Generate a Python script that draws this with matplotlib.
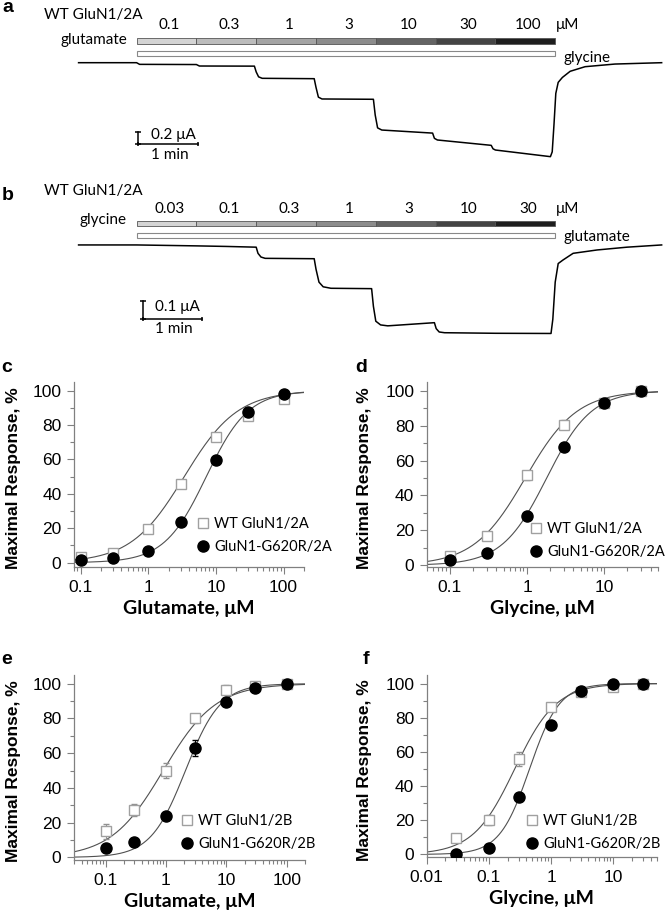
import numpy as np
import matplotlib
matplotlib.use('Agg')
import matplotlib.pyplot as plt
from matplotlib.patches import Rectangle
from matplotlib.transforms import blended_transform_factory
from matplotlib.ticker import FixedLocator, FixedFormatter, LogLocator, NullFormatter, MultipleLocator

plt.rcParams['font.family'] = ['Liberation Sans', 'DejaVu Sans']

W, H = 665, 921
LATO = ['Lato', 'DejaVu Sans']

# ---- data: traces (time in min, current in uA)
glu_conc_a = ['0.1', '0.3', '1', '3', '10', '30', '100']
gly_conc_b = ['0.03', '0.1', '0.3', '1', '3', '10', '30']
app_start = [0, 1, 2, 3, 4, 5, 6]
app_dur = 1.0
bar_colors = ['#d4d4d4', '#bcbcbc', '#a4a4a4', '#8c8c8c', '#646464', '#444444', '#1e1e1e']

trace_a_t = [-0.97, 0.0, 0.05, 1.0, 1.05, 1.97, 2.0, 2.04, 2.1, 2.97, 3.0, 3.04, 3.1, 3.96, 3.99, 4.03,
             4.1, 4.95, 4.98, 5.03, 5.93, 5.96, 6.0, 6.92, 6.95, 6.98, 7.01, 7.05, 7.12, 7.25, 7.5, 8.0, 8.78]
trace_a_i = [0, 0, -0.027, -0.03, -0.054, -0.056, -0.15, -0.23, -0.254, -0.26, -0.4, -0.56, -0.59, -0.595, -0.85, -1.06,
             -1.095, -1.145, -1.23, -1.257, -1.344, -1.40, -1.42, -1.528, -1.45, -1.0, -0.5, -0.32, -0.24, -0.14, -0.065, -0.022, 0]

trace_b_t = [-0.97, 0.0, 1.0, 1.5, 2.0, 2.03, 2.08, 2.15, 2.97, 3.0, 3.05, 3.12, 3.25, 3.93, 3.96, 4.0,
             4.08, 4.2, 4.98, 5.01, 5.06, 5.15, 6.0, 6.93, 6.96, 7.0, 7.05, 7.13, 7.3, 7.7, 8.2, 8.78]
trace_b_i = [0, 0, -0.005, -0.008, -0.012, -0.045, -0.065, -0.072, -0.074, -0.13, -0.2, -0.225, -0.233, -0.235, -0.33, -0.41,
             -0.43, -0.435, -0.418, -0.45, -0.468, -0.472, -0.475, -0.476, -0.40, -0.2, -0.1, -0.081, -0.045, -0.027, -0.012, 0]

scale_a = (0.2, 1)   # uA, min
scale_b = (0.1, 1)

# ---- data: concentration-response
conc_c = [0.1, 0.3, 1, 3, 10, 30, 100]
wt_c = [3.5, 5.5, 19.5, 46, 73, 85.5, 95]
wt_c_err = [2, 1.5, 2, 1.5, 2, 1.5, 2]
mut_c = [1.5, 2.5, 7, 23.7, 59.5, 87.5, 98]
mut_c_err = [1, 1, 1, 1, 1, 1, 1]
fit_c = [(3.4, 1.1), (7.2, 1.4)]

conc_d = [0.1, 0.3, 1, 3, 10, 30]
wt_d = [5.5, 17, 51.5, 80.5, 93, 100]
wt_d_err = [1, 2, 2.5, 2.5, 1.5, 1]
mut_d = [3, 7, 28, 67.5, 93, 100]
mut_d_err = [1, 1, 1, 1.5, 1, 0.5]
fit_d = [(0.95, 1.3), (1.8, 1.5)]

conc_e = [0.1, 0.3, 1, 3, 10, 30, 100]
wt_e = [15, 27.5, 50, 80, 96.5, 98.5, 100]
wt_e_err = [4.5, 3.5, 4.5, 2.5, 2.5, 1.5, 0.5]
mut_e = [5.5, 8.8, 24, 63, 89.5, 97.5, 100]
mut_e_err = [1, 1, 1.5, 4.5, 2, 1, 0.5]
fit_e = [(0.9, 1.0), (2.1, 1.5)]

conc_f = [0.03, 0.1, 0.3, 1, 3, 10, 30]
wt_f = [9.5, 20, 56, 86, 95, 98, 100]
wt_f_err = [2, 3, 4, 2, 1, 1.5, 0.5]
mut_f = [0.5, 4, 33.5, 75.5, 95.5, 100, 100]
mut_f_err = [1, 1, 1.5, 2, 1, 1, 0.5]
fit_f = [(0.26, 1.3), (0.45, 1.8)]


def fx(px):
    return px / W


def fy(py):
    return 1 - py / H


def hill(x, ec50, nh):
    return 100.0 / (1.0 + (ec50 / x) ** nh)


fig = plt.figure(figsize=(W / 100, H / 100), dpi=100)


def trace_panel(top, bottom, ylim, t, i, labels, rows, scale, sb):
    ax = fig.add_axes([0, fy(bottom), 1, (bottom - top) / H])
    ax.set_xlim(-2.284, 8.836)
    ax.set_ylim(*ylim)
    ax.axis('off')
    ax.plot(t, i, color='black', lw=1.1)
    tr = blended_transform_factory(ax.transData, fig.transFigure)
    by0, by1, oy0, oy1, ny = rows
    for k, s in enumerate(app_start):
        ax.add_patch(Rectangle((s, fy(by1)), app_dur, (by1 - by0) / H, transform=tr,
                               facecolor=bar_colors[k], edgecolor='#555555', lw=0.6))
        ax.text(s + app_dur / 2 + 0.05, fy(ny), labels[k], transform=tr, ha='center', va='center',
                fontsize=11, family=LATO)
    ax.add_patch(Rectangle((app_start[0], fy(oy1)), app_start[-1] + app_dur - app_start[0], (oy1 - oy0) / H,
                           transform=tr, facecolor='white', edgecolor='#888888', lw=0.8))
    # scale bars
    x0, yb = sb
    ax.plot([x0, x0], [yb, yb + scale[0]], color='black', lw=1.1, marker='_', ms=5, mew=1.1)
    ax.plot([x0, x0 + scale[1]], [yb, yb], color='black', lw=1.1, marker='|', ms=3, mew=1.1)
    return ax


ax_a = trace_panel(0, 170, (-1.745, 1.0195), trace_a_t, trace_a_i, glu_conc_a,
                   (38.3, 44, 51, 56, 25), scale_a, (0.02, -1.322))
ax_b = trace_panel(170, 345, (-0.538, 0.403), trace_b_t, trace_b_i, gly_conc_b,
                   (220.7, 226, 233.3, 237.7, 209.3), scale_b, (0.1, -0.4))

# trace annotations
fig.text(fx(2), fy(7), 'a', fontsize=14, fontweight='bold', va='center')
fig.text(fx(44.5), fy(15), 'WT GluN1/2A', fontsize=11, family=LATO, va='center')
fig.text(fx(127), fy(40), 'glutamate', fontsize=11, family=LATO, va='center', ha='right')
fig.text(fx(556), fy(25), 'μM', fontsize=11, family=LATO, va='center')
fig.text(fx(564), fy(58), 'glycine', fontsize=11, family=LATO, va='center')
fig.text(fx(150.6), fy(135), '0.2 μA', fontsize=11, family=LATO, va='center')
fig.text(fx(150.6), fy(155), '1 min', fontsize=11, family=LATO, va='center')

fig.text(fx(2), fy(195), 'b', fontsize=14, fontweight='bold', va='center')
fig.text(fx(44.5), fy(190.7), 'WT GluN1/2A', fontsize=11, family=LATO, va='center')
fig.text(fx(127), fy(220), 'glycine', fontsize=11, family=LATO, va='center', ha='right')
fig.text(fx(556), fy(209.3), 'μM', fontsize=11, family=LATO, va='center')
fig.text(fx(564), fy(237.3), 'glutamate', fontsize=11, family=LATO, va='center')
fig.text(fx(155), fy(307), '0.1 μA', fontsize=11, family=LATO, va='center')
fig.text(fx(155), fy(329), '1 min', fontsize=11, family=LATO, va='center')


def dose_panel(box, xlim, ylim, ticks, conc, wt, wt_err, mut, mut_err, fits, names, xlabel, leg, letter, ylab_x):
    left, right, top, bottom = box
    ax = fig.add_axes([fx(left), fy(bottom), (right - left) / W, (bottom - top) / H])
    ax.set_xscale('log')
    ax.set_xlim(*xlim)
    ax.set_ylim(*ylim)
    xs = np.logspace(np.log10(xlim[0]), np.log10(xlim[1]), 300)
    for ec50, nh in fits:
        ax.plot(xs, hill(xs, ec50, nh), color='#505050', lw=0.8, zorder=2)
    ax.errorbar(conc, wt, yerr=wt_err, fmt='none', ecolor='#909090', elinewidth=0.8, capsize=2, zorder=3)
    ax.plot(conc, wt, ls='none', marker='s', ms=7.5, mfc='white', mec='#a0a0a0', mew=1.0, zorder=4, label=names[0])
    ax.errorbar(conc, mut, yerr=mut_err, fmt='none', ecolor='black', elinewidth=0.8, capsize=2, zorder=5)
    ax.plot(conc, mut, ls='none', marker='o', ms=8, mfc='black', mec='black', zorder=6, label=names[1])

    for s in ['top', 'right']:
        ax.spines[s].set_visible(False)
    for s in ['left', 'bottom']:
        ax.spines[s].set_color('#808080')
        ax.spines[s].set_linewidth(0.9)
    ax.xaxis.set_major_locator(FixedLocator(ticks))
    ax.xaxis.set_major_formatter(FixedFormatter(['%g' % v for v in ticks]))
    ax.xaxis.set_minor_locator(LogLocator(base=10, subs=np.arange(2, 10)))
    ax.xaxis.set_minor_formatter(NullFormatter())
    ax.yaxis.set_major_locator(MultipleLocator(20))
    ax.yaxis.set_minor_locator(MultipleLocator(10))
    ax.tick_params(which='both', color='#808080', width=0.8, labelsize=12.5)
    ax.tick_params(which='major', length=5, pad=4)
    ax.tick_params(which='minor', length=3)
    ax.set_ylabel('Maximal Response, %', fontsize=12.5, fontweight='bold')
    ax.yaxis.set_label_coords((ylab_x - left) / (right - left), 0.48)
    ax.set_xlabel(xlabel, fontsize=14, fontweight='bold', family=LATO, labelpad=4)
    ax.legend(loc='upper left', bbox_to_anchor=(fx(leg[0]), fy(leg[1])), bbox_transform=fig.transFigure,
              frameon=False, borderpad=0, borderaxespad=0, handlelength=1.0, handletextpad=0.25,
              labelspacing=0.65, prop={'family': LATO, 'size': 10.5})
    fig.text(fx(letter[0]), fy(letter[1]), letter[2], fontsize=14, fontweight='bold', ha='center', va='center')
    return ax


dose_panel((74, 304, 382, 567), (0.08, 200), (-2.5, 105), [0.1, 1, 10, 100], conc_c, wt_c, wt_c_err,
           mut_c, mut_c_err, fit_c, ['WT GluN1/2A', 'GluN1-G620R/2A'], 'Glutamate, μM', (196, 517),
           (7, 368, 'c'), 21)
dose_panel((426.7, 658, 382, 567), (0.05, 50), (-1, 105), [0.1, 1, 10], conc_d, wt_d, wt_d_err,
           mut_d, mut_d_err, fit_d, ['WT GluN1/2A', 'GluN1-G620R/2A'], 'Glycine, μM', (529, 522),
           (361, 368, 'd'), 372)
dose_panel((74, 305, 675, 860), (0.03, 200), (-1.5, 105), [0.1, 1, 10, 100], conc_e, wt_e, wt_e_err,
           mut_e, mut_e_err, fit_e, ['WT GluN1/2B', 'GluN1-G620R/2B'], 'Glutamate, μM', (180, 814),
           (7, 660, 'e'), 21)
dose_panel((426.7, 656.7, 675, 857), (0.01, 50), (-1.5, 105), [0.01, 0.1, 1, 10], conc_f, wt_f, wt_f_err,
           mut_f, mut_f_err, fit_f, ['WT GluN1/2B', 'GluN1-G620R/2B'], 'Glycine, μM', (525, 814),
           (366, 659, 'f'), 372)

fig.savefig('out.png', dpi=100)
